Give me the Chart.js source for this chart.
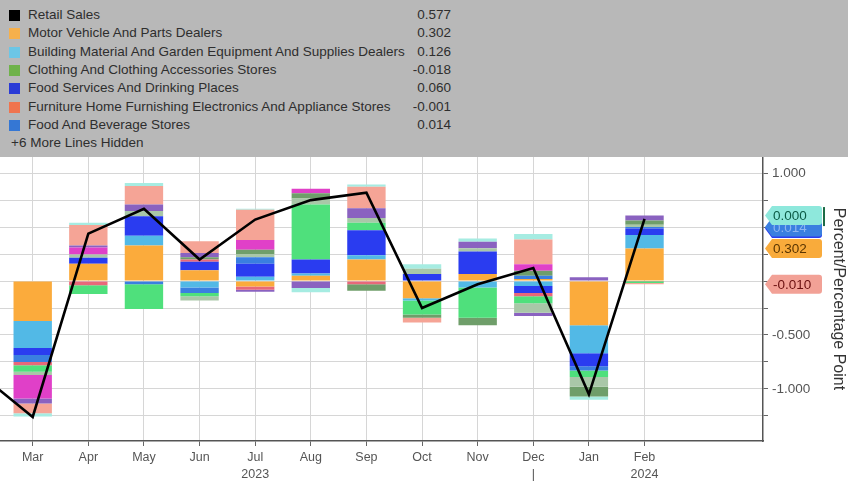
<!DOCTYPE html>
<html>
<head>
<meta charset="utf-8">
<script src="https://cdn.jsdelivr.net/npm/chart.js@4.4.1/dist/chart.umd.min.js"></script>
<style>
  html, body { margin: 0; padding: 0; background: #fff; }
  body { width: 848px; height: 483px; overflow: hidden; position: relative; font-family: "Liberation Sans", Arial, sans-serif; }
  #legend { position: absolute; left: 0; top: 0; width: 848px; height: 157px; background: #b8b8b8; }
  .row { position: absolute; left: 0; width: 451px; height: 18px; line-height: 18px; font-size: 13.5px; color: #2e2e2e; }
  .sw { position: absolute; left: 9px; top: 4px; width: 11px; height: 11px; }
  .name { position: absolute; left: 28px; white-space: nowrap; }
  .val { position: absolute; right: 0; }
  #wrap { position: absolute; left: 0; top: 157px; width: 848px; height: 326px; }
</style>
</head>
<body>
<div id="legend"></div>
<div id="wrap"><canvas id="chart" width="848" height="326"></canvas></div>
<script>
document.addEventListener("DOMContentLoaded", () => {
    // months Mar 2023 .. Feb 2024, retail line starts one month earlier (Feb 2023)
    const months = ["Mar", "Apr", "May", "Jun", "Jul", "Aug", "Sep", "Oct", "Nov", "Dec", "Jan", "Feb"];
    const yearRow = ["", "", "", "", "2023", "", "", "", "", "|", "", "2024"];

    const retailSales = [-0.84, -1.26, 0.44, 0.67, 0.20, 0.57, 0.75, 0.82, -0.25, -0.03, 0.12, -1.05, 0.577];

    const motorVehicle = [-0.37, 0.16, 0.33, 0.10, -0.05, 0.05, 0.20, -0.16, 0.065, 0.02, -0.41, 0.302];
    const buildingMaterial = [-0.25, 0, 0.09, -0.06, 0.04, 0.02, 0.04, -0.02, -0.06, -0.045, -0.26, 0.126];
    const foodServices = [-0.065, 0.055, 0.18, 0.08, 0.12, 0.13, 0.23, 0.065, 0.21, -0.065, -0.12, 0.060];
    const foodBeverage = [-0.065, 0, -0.03, -0.05, 0.06, 0, 0, 0, 0, 0.03, -0.04, 0.014];
    const furniture = [-0.03, -0.04, 0, 0.02, -0.03, 0, -0.03, 0, 0, -0.03, 0, -0.001];
    const clothing = [-0.06, -0.08, -0.23, -0.03, 0, 0.51, 0.07, -0.13, -0.28, -0.065, -0.06, -0.018];
    const healthCare = [-0.03, 0.03, 0.05, -0.04, 0.03, 0.055, 0.045, 0.05, 0.03, -0.09, -0.09, 0.02];
    const sportingGoods = [0, 0, 0, 0.02, 0.04, 0.05, -0.06, -0.03, -0.07, 0.045, -0.09, 0.04];
    const gasoline = [-0.22, 0.065, 0, 0, 0.09, 0.04, 0, 0, 0, 0.06, 0, 0];
    const generalMerch = [-0.045, 0.02, 0.06, 0.04, -0.02, -0.065, 0.09, 0, 0.06, -0.03, 0.035, 0.045];
    const nonstore = [-0.09, 0.19, 0.17, 0.11, 0.28, 0, 0.20, -0.045, 0, 0.23, 0, -0.010];
    const miscStores = [-0.03, 0.02, 0.03, 0, 0.01, -0.04, 0.02, 0.04, 0.03, 0.05, -0.03, 0];

    const series = [
        { label: "Motor Vehicle And Parts Dealers", data: motorVehicle, color: "#fbab3c", key: "#f6b04c" },
        { label: "Building Material And Garden Equipment And Supplies Dealers", data: buildingMaterial, color: "#52b9e6", key: "#6cc6e6" },
        { label: "Food Services And Drinking Places", data: foodServices, color: "#2a3cf0", key: "#2a3bd6" },
        { label: "Food And Beverage Stores", data: foodBeverage, color: "#3a7fe0", key: "#3577d4" },
        { label: "Furniture Home Furnishing Electronics And Appliance Stores", data: furniture, color: "#e8687a", key: "#f0744e" },
        { label: "Clothing And Clothing Accessories Stores", data: clothing, color: "#4fe07c", key: "#6fb24a" },
        { label: "Health And Personal Care Stores", data: healthCare, color: "#a9c7a8" },
        { label: "Sporting Goods Hobby Musical Instrument And Book Stores", data: sportingGoods, color: "#6f9e6a" },
        { label: "Gasoline Stations", data: gasoline, color: "#e040c8" },
        { label: "General Merchandise Stores", data: generalMerch, color: "#8a62c0" },
        { label: "Nonstore Retailers", data: nonstore, color: "#f5a496" },
        { label: "Miscellaneous Store Retailers", data: miscStores, color: "#a6ece2" }
    ];

    // legend rows shown in the grey header
    const legendOrder = [0, 1, 5, 2, 4, 3];
    const legendEl = document.getElementById("legend");
    const rows = [{ name: "Retail Sales", key: "#000", value: retailSales[retailSales.length - 1] }]
        .concat(legendOrder.map(i => ({ name: series[i].label, key: series[i].key, value: series[i].data[months.length - 1] })));
    rows.forEach((r, i) => {
        const div = document.createElement("div");
        div.className = "row";
        div.style.top = (6 + i * 18.3) + "px";
        div.innerHTML = '<span class="sw" style="background:' + r.key + '"></span><span class="name">' + r.name +
            '</span><span class="val">' + r.value.toFixed(3) + '</span>';
        legendEl.appendChild(div);
    });
    const more = document.createElement("div");
    more.className = "row";
    more.style.top = (6 + rows.length * 18.3) + "px";
    more.innerHTML = '<span class="name" style="left:11px">+6 More Lines Hidden</span>';
    legendEl.appendChild(more);

    // last-value tags on the right axis
    const tags = [
        { s: 2, fill: "#2a3cf0", text: "#7f90f0" },
        { s: 3, fill: "#3a7fe0", text: "#8fb4f0" },
        { s: 11, fill: "#8ee8dc", text: "#0b5b46", bar: "#1d6b45" },
        { s: 0, fill: "#f9ab3b", text: "#5a3500" },
        { s: 10, fill: "#f2a196", text: "#6a1010" }
    ];

    const stackTop = (s, col) => {
        const v = series[s].data[col];
        let sum = 0;
        for (let i = 0; i <= s; i++) {
            const d = series[i].data[col];
            if ((v >= 0 && d >= 0) || (v < 0 && d < 0)) sum += d;
        }
        return sum;
    };

    const tagPlugin = {
        id: "lastTags",
        afterDraw(chart) {
            const ctx = chart.ctx;
            const yScale = chart.scales.y;
            const x0 = chart.chartArea.right + 2;
            const last = months.length - 1;
            ctx.save();
            tags.forEach(t => {
                const py = yScale.getPixelForValue(stackTop(t.s, last));
                const h = 9.5, w = 57;
                ctx.beginPath();
                ctx.moveTo(x0, py);
                ctx.lineTo(x0 + 7, py - h);
                ctx.lineTo(x0 + w - 3, py - h);
                ctx.quadraticCurveTo(x0 + w, py - h, x0 + w, py - h + 3);
                ctx.lineTo(x0 + w, py + h - 3);
                ctx.quadraticCurveTo(x0 + w, py + h, x0 + w - 3, py + h);
                ctx.lineTo(x0 + 7, py + h);
                ctx.closePath();
                ctx.fillStyle = t.fill;
                ctx.fill();
                if (t.bar) {
                    ctx.fillStyle = t.bar;
                    ctx.fillRect(x0 + w + 1, py - h + 1, 2, 2 * h);
                }
                ctx.fillStyle = t.text;
                ctx.font = "13.5px 'Liberation Sans', Arial, sans-serif";
                ctx.textAlign = "left";
                ctx.textBaseline = "middle";
                ctx.fillText(series[t.s].data[last].toFixed(3), x0 + 8, py + 1);
            });
            ctx.restore();
        }
    };

    const noPad = s => {
        s.paddingTop = 0;
        s.paddingBottom = 0;
        s.paddingLeft = 0;
        s.paddingRight = 0;
    };

    Chart.defaults.font.family = "'Liberation Sans', Arial, sans-serif";

    const ctx = document.getElementById("chart").getContext("2d");
    new Chart(ctx, {
        type: "bar",
        data: {
            datasets: series.map(s => ({
                type: "bar",
                label: s.label,
                data: s.data.map((v, i) => ({ x: i + 1, y: v })),
                backgroundColor: s.color,
                borderWidth: 0,
                categoryPercentage: 1,
                barPercentage: 0.69,
                order: 1
            })).concat([{
                type: "line",
                label: "Retail Sales",
                data: retailSales.map((v, i) => ({ x: i, y: v })),
                borderColor: "#000",
                borderWidth: 2.6,
                pointRadius: 0,
                tension: 0,
                order: 0
            }])
        },
        options: {
            responsive: false,
            animation: false,
            layout: { padding: 0 },
            plugins: {
                legend: { display: false },
                tooltip: { enabled: false }
            },
            scales: {
                x: {
                    type: "linear",
                    stacked: true,
                    offset: false,
                    min: 0.412,
                    max: 14.13,
                    afterBuildTicks: s => { s.ticks = months.map((m, i) => ({ value: i + 1 })); },
                    afterFit: s => { s.height = 42; noPad(s); },
                    border: { color: "#555", width: 1.5 },
                    grid: { offset: false, color: "#d6d6d6", tickColor: "#666", tickLength: 5 },
                    ticks: {
                        autoSkip: false,
                        maxRotation: 0,
                        padding: 3,
                        color: "#555",
                        font: { size: 12.5, lineHeight: 1.35 },
                        callback: v => [months[v - 1], yearRow[v - 1]]
                    }
                },
                y: {
                    position: "right",
                    stacked: true,
                    min: -1.483,
                    max: 1.15,
                    afterFit: s => { s.width = 85; noPad(s); },
                    border: { color: "#555", width: 1.5 },
                    grid: { color: "#d6d6d6", tickColor: "#666", tickLength: 5 },
                    ticks: {
                        stepSize: 0.25,
                        maxTicksLimit: 50,
                        includeBounds: false,
                        padding: 4,
                        color: "#555",
                        font: { size: 13.5 },
                        callback: v => Math.abs(v * 2 - Math.round(v * 2)) < 1e-6 ? v.toFixed(3) : ""
                    },
                    title: {
                        display: true,
                        text: "Percent/Percentage Point",
                        color: "#333",
                        font: { size: 16 },
                        padding: { top: 0, bottom: 1 }
                    }
                }
            }
        },
        plugins: [tagPlugin]
    });
});
</script>
</body>
</html>
